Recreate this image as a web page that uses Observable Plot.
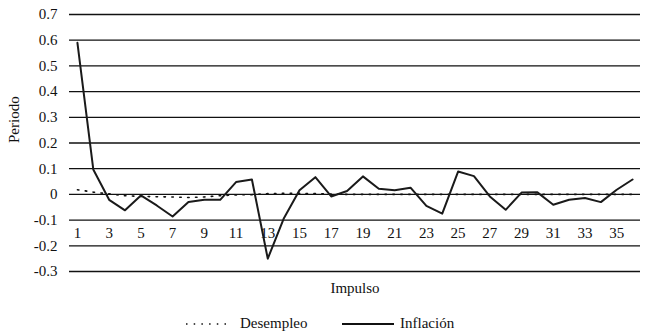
<!DOCTYPE html>
<html>
<head>
<meta charset="utf-8">
<script src="https://cdn.jsdelivr.net/npm/d3@7"></script>
<script src="https://cdn.jsdelivr.net/npm/@observablehq/plot@0.6"></script>
<style>
  body { margin: 0; background: #fff; font-family: "Liberation Serif", "DejaVu Serif", serif; }
  #wrap { position: relative; width: 646px; height: 334px; }
  #legend { position: absolute; left: 0; top: 305px; width: 646px; height: 29px; font-size: 15px; color: #111; }
  #legend span { position: absolute; top: 11px; line-height: 15px; }
  #legend svg { position: absolute; top: 16px; }
</style>
</head>
<body>
<div id="wrap">
  <div id="chart"></div>
  <div id="legend">
    <svg style="left:185px" width="48" height="6"><line x1="1" y1="3" x2="47" y2="3" stroke="#111" stroke-width="1.6" stroke-dasharray="1.5,6.2"/></svg>
    <span style="left:240px">Desempleo</span>
    <svg style="left:342px" width="52" height="6"><line x1="0" y1="3" x2="52" y2="3" stroke="#111" stroke-width="2"/></svg>
    <span style="left:400px">Inflación</span>
  </div>
</div>
<script>
const periods = d3.range(1, 37);
const inflacion = [0.59, 0.097, -0.021, -0.062, -0.004, -0.043, -0.086, -0.03, -0.021, -0.021,
  0.048, 0.058, -0.25, -0.095, 0.016, 0.067, -0.008, 0.013, 0.07, 0.022,
  0.016, 0.026, -0.045, -0.075, 0.089, 0.071, -0.008, -0.06, 0.007, 0.008,
  -0.04, -0.021, -0.014, -0.03, 0.018, 0.058];
const desempleo = [0.018, 0.009, 0.002, -0.005, -0.008, -0.009, -0.01, -0.012, -0.01, -0.005,
  -0.002, -0.001, 0.003, 0.004, 0.004, 0.003, 0.001, 0, 0, 0,
  0, 0, 0, 0, 0, 0, 0, 0, 0, 0,
  0, 0, 0, 0, 0, 0];
const yTicks = [0.7, 0.6, 0.5, 0.4, 0.3, 0.2, 0.1, 0, -0.1, -0.2, -0.3];
const xTickLabels = [1, 3, 5, 7, 9, 11, 13, 15, 17, 19, 21, 23, 25, 27, 29, 31, 33, 35];

const dataInf = periods.map((p, i) => ({p, v: inflacion[i]}));
const dataDes = periods.map((p, i) => ({p, v: desempleo[i]}));

const chart = Plot.plot({
  width: 646,
  height: 305,
  marginLeft: 69,
  marginRight: 6,
  marginTop: 14,
  marginBottom: 34,
  style: {fontFamily: "'Liberation Serif', 'DejaVu Serif', serif", fontSize: "15px", color: "#111", background: "#fff"},
  x: {domain: [0.5, 36.5], axis: null},
  y: {domain: [-0.3, 0.7], axis: null},
  marks: [
    Plot.ruleY(yTicks, {stroke: "#111", strokeWidth: 1.3}),
    Plot.axisY(yTicks, {tickSize: 0, tickPadding: 12, label: null, fontSize: 15,
      tickFormat: d => d === 0 ? "0" : d.toFixed(1)}),
    Plot.text(xTickLabels, {x: d => d, y: 0, dy: 39, fontSize: 15, fill: "#111"}),
    Plot.line(dataDes, {x: "p", y: "v", stroke: "#111", strokeWidth: 1.6, strokeDasharray: "1.5,6.4"}),
    Plot.line(dataInf, {x: "p", y: "v", stroke: "#1a1a1a", strokeWidth: 2}),
    Plot.text(["Periodo"], {frameAnchor: "left", dx: -55, rotate: -90, fontSize: 15, fill: "#111"}),
    Plot.text(["Impulso"], {frameAnchor: "bottom", dy: 21, fontSize: 15, fill: "#111"})
  ]
});
document.getElementById("chart").appendChild(chart);
</script>
</body>
</html>
